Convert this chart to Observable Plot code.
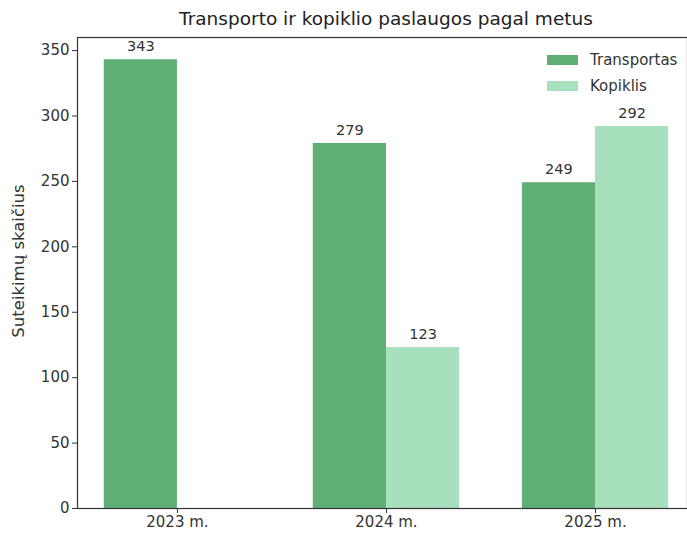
<!DOCTYPE html>
<html>
<head>
<meta charset="utf-8">
<script src="https://cdn.jsdelivr.net/npm/d3@7"></script>
<script src="https://cdn.jsdelivr.net/npm/@observablehq/plot@0.6"></script>
<style>
  body { margin: 0; background: #fff; font-family: "DejaVu Sans", sans-serif; }
  #wrap { position: relative; width: 687px; height: 535px; overflow: hidden; }
  #title { position: absolute; left: 77px; width: 618px; top: 8px; text-align: center; font-size: 18.5px; line-height: 22px; color: #222; }
  #chart { position: absolute; left: 0; top: 30px; }
  #legend { position: absolute; left: 547px; top: 47px; font-size: 15px; color: #333; }
  .item { display: flex; align-items: center; height: 26px; }
  .sw { width: 31px; height: 10px; margin-right: 12px; }
</style>
</head>
<body>
<div id="wrap">
  <div id="title">Transporto ir kopiklio paslaugos pagal metus</div>
  <div id="chart"></div>
  <div id="legend"></div>
</div>
<script>
const years = ["2023 m.", "2024 m.", "2025 m."];
const series = ["Transportas", "Kopiklis"];
const transportas = [343, 279, 249];
const kopiklis = [null, 123, 292];
const colors = ["#5eae76", "#a7e0bd"];
const yTicks = [0, 50, 100, 150, 200, 250, 300, 350];
const barWidth = 0.35;

const data = [];
years.forEach((y, i) => {
  [transportas, kopiklis].forEach((vals, s) => {
    if (vals[i] == null) return;
    const x1 = s === 0 ? i - barWidth : i;
    data.push({i, year: y, series: series[s], value: vals[i], x1, x2: x1 + barWidth, xc: x1 + barWidth / 2});
  });
});

const chart = Plot.plot({
  width: 687,
  height: 505,
  marginLeft: 77,
  marginRight: 0,
  marginTop: 7,
  marginBottom: 27,
  style: {fontFamily: "DejaVu Sans, sans-serif", fontSize: "15px", color: "#333", overflow: "visible"},
  x: {domain: [-0.478, 2.44], axis: null},
  y: {domain: [0, 360], axis: null},
  color: {domain: series, range: colors},
  marks: [
    Plot.rectY(data, {x1: "x1", x2: "x2", y1: 0, y2: "value", fill: "series"}),
    Plot.text(data, {x: "xc", y: "value", text: d => String(d.value), dy: -13, fontSize: 14.5, fill: "#333"}),
    Plot.axisY({ticks: yTicks, tickSize: 5, tickPadding: 3, label: null, fontSize: 15, stroke: "#333"}),
    Plot.axisX({ticks: [0, 1, 2], tickFormat: i => years[i], tickSize: 5, tickPadding: 3, label: null, fontSize: 15, stroke: "#333"}),
    Plot.text(["Suteikimų skaičius"], {frameAnchor: "left", textAnchor: "middle", rotate: -90, dx: -59, dy: -12, fontSize: 16.5, fill: "#333"}),
    Plot.frame({stroke: "#333", strokeWidth: 1.2})
  ]
});
document.getElementById("chart").appendChild(chart);

const legend = document.getElementById("legend");
series.forEach((s, i) => {
  const it = document.createElement("div");
  it.className = "item";
  it.innerHTML = `<span class="sw" style="background:${colors[i]}"></span><span>${s}</span>`;
  legend.appendChild(it);
});
</script>
</body>
</html>
